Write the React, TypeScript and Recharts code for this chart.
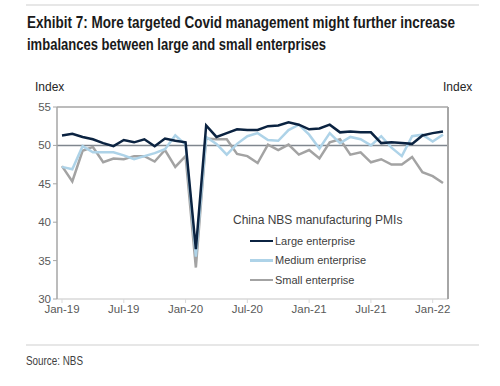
import { LineChart, Line, XAxis, YAxis, ReferenceLine } from 'recharts';

const MONTHS = [
  'Jan-19', 'Feb-19', 'Mar-19', 'Apr-19', 'May-19', 'Jun-19', 'Jul-19', 'Aug-19', 'Sep-19', 'Oct-19', 'Nov-19', 'Dec-19',
  'Jan-20', 'Feb-20', 'Mar-20', 'Apr-20', 'May-20', 'Jun-20', 'Jul-20', 'Aug-20', 'Sep-20', 'Oct-20', 'Nov-20', 'Dec-20',
  'Jan-21', 'Feb-21', 'Mar-21', 'Apr-21', 'May-21', 'Jun-21', 'Jul-21', 'Aug-21', 'Sep-21', 'Oct-21', 'Nov-21', 'Dec-21',
  'Jan-22', 'Feb-22',
];

const LARGE = [
  51.3, 51.5, 51.1, 50.8, 50.3, 49.9, 50.7, 50.4, 50.8, 49.9, 50.9, 50.6,
  50.4, 36.5, 52.6, 51.1, 51.6, 52.1, 52.0, 52.0, 52.5, 52.6, 53.0, 52.7,
  52.1, 52.2, 52.7, 51.7, 51.8, 51.7, 51.7, 50.3, 50.4, 50.3, 50.2, 51.3,
  51.6, 51.8,
];

const MEDIUM = [
  47.2, 46.9, 49.9, 49.1, 49.1, 49.1, 48.7, 48.2, 48.6, 49.0, 49.5, 51.3,
  50.1, 35.5, 51.1, 50.2, 48.8, 50.2, 51.2, 51.6, 50.7, 50.6, 52.0, 52.7,
  51.4, 49.6, 51.6, 50.3, 51.1, 50.8, 50.0, 51.2, 49.7, 48.6, 51.2, 51.4,
  50.5, 51.4,
];

const SMALL = [
  47.3, 45.3, 49.3, 49.8, 47.8, 48.3, 48.2, 48.6, 48.6, 47.9, 49.4, 47.2,
  48.6, 34.1, 50.9, 50.8, 50.8, 48.9, 48.6, 47.7, 50.1, 49.4, 50.1, 48.8,
  49.4, 48.3, 50.4, 50.8, 48.8, 49.1, 47.8, 48.2, 47.5, 47.5, 48.5, 46.5,
  46.0, 45.1,
];

const Y_TICKS = [30, 35, 40, 45, 50, 55];

const SERIES = [
  { key: 'small', name: 'Small enterprise', color: '#a3a3a3' },
  { key: 'medium', name: 'Medium enterprise', color: '#aed3e8' },
  { key: 'large', name: 'Large enterprise', color: '#0b2341' },
];

const data = MONTHS.map((m, i) => ({ month: m, large: LARGE[i], medium: MEDIUM[i], small: SMALL[i] }));

const sans = '"Liberation Sans", Arial, sans-serif';

const LegendBox = () => (
  <div style={{ position: 'absolute', left: 233, top: 213, fontFamily: sans, fontSize: 11, color: '#404040' }}>
    <div style={{ fontSize: 12, marginBottom: 4 }}>China NBS manufacturing PMIs</div>
    {[...SERIES].reverse().map((s) => (
      <div key={s.key} style={{ display: 'flex', alignItems: 'center', height: 19.5, paddingLeft: 17 }}>
        <span style={{ display: 'inline-block', width: 23, height: 2.5, background: s.color, marginRight: 2 }} />
        {s.name}
      </div>
    ))}
  </div>
);

export default function App() {
  return (
    <div style={{ position: 'absolute', left: 0, top: 0, width: 500, height: 386, background: '#fff', fontFamily: sans }}>
      <svg width={500} height={386} style={{ position: 'absolute', left: 0, top: 0 }}>
        <line x1={26} x2={479} y1={5} y2={5} stroke="#cfcfcf" />
        <text x={27} y={28} textLength={428} lengthAdjust="spacingAndGlyphs" fontFamily={sans} fontWeight={700} fontSize={16.5} fill="#1a1a1a">
          Exhibit 7: More targeted Covid management might further increase
        </text>
        <text x={27} y={50} textLength={299} lengthAdjust="spacingAndGlyphs" fontFamily={sans} fontWeight={700} fontSize={16.5} fill="#1a1a1a">
          imbalances between large and small enterprises
        </text>
        <text x={35} y={91} fontFamily={sans} fontSize={12} fill="#262626">Index</text>
        <text x={443} y={91} fontFamily={sans} fontSize={12} fill="#262626">Index</text>
        <line x1={26} x2={479} y1={345} y2={345} stroke="#cfcfcf" />
        <text x={26} y={365} textLength={57} lengthAdjust="spacingAndGlyphs" fontFamily={sans} fontSize={13} fill="#404040">
          Source: NBS
        </text>
      </svg>

      <div style={{ position: 'absolute', left: 0, top: 0 }}>
        <LineChart width={500} height={386} data={data} margin={{ top: 107, right: 22, left: 27, bottom: 67 }}>
          <XAxis
            dataKey="month"
            interval={5}
            padding={{ left: 5, right: 5 }}
            axisLine={{ stroke: '#d9d9d9', strokeWidth: 1.5 }}
            tickLine={{ stroke: '#d9d9d9' }}
            tickSize={4}
            tick={{ fill: '#595959', fontSize: 11.5, fontFamily: sans }}
            height={20}
          />
          <YAxis
            yAxisId="left"
            orientation="left"
            domain={[30, 55]}
            ticks={Y_TICKS}
            interval={0}
            width={30}
            axisLine={{ stroke: '#a6a6a6', strokeWidth: 1.5 }}
            tickLine={{ stroke: '#a6a6a6' }}
            tickSize={4}
            tick={{ fill: '#595959', fontSize: 11.5, fontFamily: sans }}
          />
          <YAxis
            yAxisId="right"
            orientation="right"
            domain={[30, 55]}
            ticks={Y_TICKS}
            interval={0}
            width={30}
            axisLine={{ stroke: '#a6a6a6', strokeWidth: 2 }}
            tickLine={{ stroke: '#a6a6a6' }}
            tickSize={4}
            tick={{ fill: '#595959', fontSize: 11.5, fontFamily: sans }}
          />
          <ReferenceLine yAxisId="left" y={55} stroke="#a6a6a6" strokeWidth={1.5} />
          <ReferenceLine yAxisId="left" y={50} stroke="#7f868e" strokeWidth={1.5} />
          {SERIES.map((s) => (
            <Line
              key={s.key}
              yAxisId="left"
              type="linear"
              dataKey={s.key}
              name={s.name}
              stroke={s.color}
              strokeWidth={2.5}
              dot={false}
              isAnimationActive={false}
            />
          ))}
        </LineChart>
      </div>

      <LegendBox />
    </div>
  );
}
